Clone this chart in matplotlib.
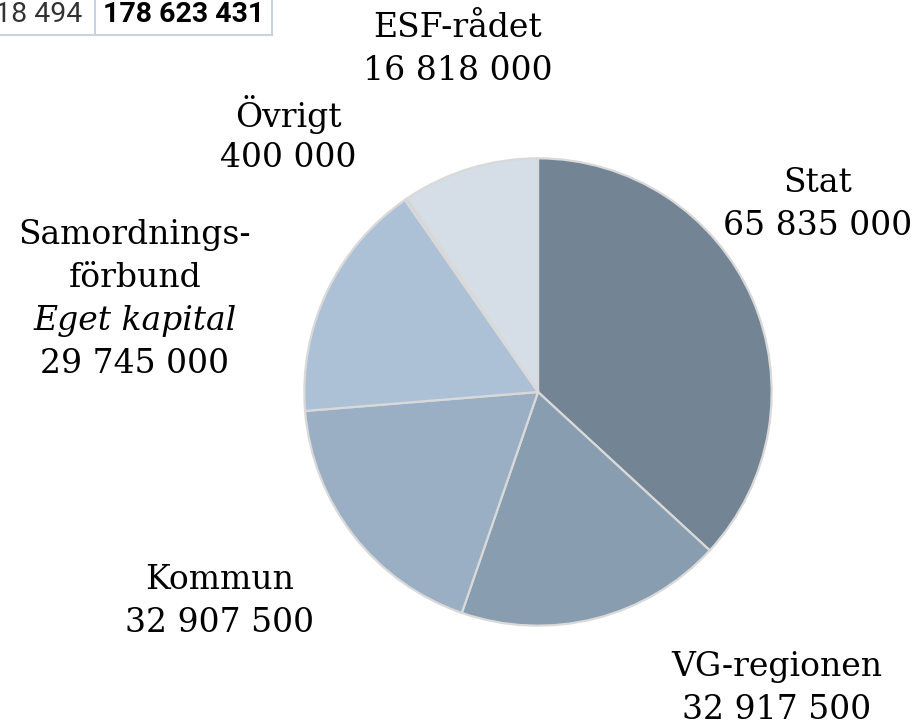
import matplotlib
matplotlib.use("Agg")
import matplotlib.pyplot as plt
from matplotlib.lines import Line2D

# data
names = ["Stat", "VG-regionen", "Kommun", "Samordnings-\nförbund", "Övrigt", "ESF-rådet"]
values = [65835000, 32917500, 32907500, 29745000, 400000, 16818000]
colors = ["#738595", "#889db0", "#9aafc3", "#acc1d5", "#c9d3dd", "#d5dee6"]
total_prev = "18 494"
total = "178 623 431"


def fmt(v):
    return f"{v:,}".replace(",", " ")


# label placement, figure pixels (center x, y of first line)
label_pos = [(818, 183), (777, 667), (220, 580), (135, 235), (288, 115), (458, 28)]
line_step = 43

W, H = 920, 728
fig = plt.figure(figsize=(W / 100, H / 100), dpi=100)
fig.patch.set_facecolor("white")

# pie axes: center (538, 392), radius 236 px
cx, cy, r = 538, 392, 236
ax = fig.add_axes([(cx - r) / W, (H - cy - r) / H, 2 * r / W, 2 * r / H])
ax.pie(values, colors=colors, startangle=90, counterclock=False, radius=1,
       wedgeprops={"edgecolor": "#d9d9d9", "linewidth": 1.6})
ax.set_xlim(-1.01, 1.01)
ax.set_ylim(-1.01, 1.01)
ax.set_aspect("equal")
ax.axis("off")

serif = {"family": "DejaVu Serif", "size": 23.8}


def ftext(x, y, s, **kw):
    fig.text(x / W, 1 - y / H, s, ha="center", va="center", **kw)


for name, v, (x, y) in zip(names, values, label_pos):
    lines = name.split("\n")
    if name.startswith("Samordnings"):
        lines = lines + [None]
    for i, ln in enumerate(lines):
        if ln is None:
            ftext(x, y + i * line_step, "Eget kapital", style="italic", **serif)
        else:
            ftext(x, y + i * line_step, ln, **serif)
    ftext(x, y + len(lines) * line_step, fmt(v), **serif)

# fragment of the table in the corner
fig.text(82 / W, 1 - 15 / H, total_prev, ha="right", va="center",
         family="Roboto", size=20.5, color="#333333")
fig.text(103 / W, 1 - 15 / H, total, ha="left", va="center",
         family="Roboto", size=20.5, weight="bold", color="black")
bc = "#c8d3df"
for xs, ys in [([95, 95], [0, 35]), ([272, 272], [0, 35]), ([0, 272], [35, 35])]:
    fig.add_artist(Line2D([x / W for x in xs], [1 - y / H for y in ys],
                          color=bc, lw=1.5, transform=fig.transFigure))

fig.savefig("out.png", dpi=100)
